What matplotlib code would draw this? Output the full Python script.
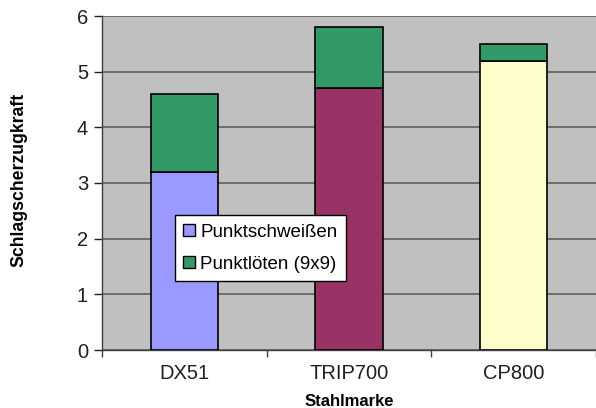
import matplotlib
matplotlib.use("Agg")
import matplotlib.pyplot as plt
from matplotlib.patches import Patch
import numpy as np

plt.rcParams['font.family'] = ['Liberation Sans', 'DejaVu Sans']

categories = ["DX51", "TRIP700", "CP800"]
schweissen = [3.2, 4.7, 5.2]
loeten_total = [4.6, 5.8, 5.5]
loeten = [t - b for t, b in zip(loeten_total, schweissen)]
base_colors = ["#9999FF", "#993366", "#FFFFCC"]
top_color = "#339966"

fig = plt.figure(figsize=(5.96, 4.08), dpi=100)
ax = fig.add_axes([102 / 596, 1 - 350 / 408, 494 / 596, 334 / 408])
ax.set_facecolor("#C0C0C0")

x = np.arange(len(categories))
ax.bar(x, schweissen, width=0.41, color=base_colors, edgecolor="black", linewidth=1.2, zorder=3)
ax.bar(x, loeten, bottom=schweissen, width=0.41, color=top_color, edgecolor="black", linewidth=1.2, zorder=3)

ax.set_xlim(-0.5, 2.5)
ax.set_ylim(0, 6)
ax.set_yticks(range(7))
ax.yaxis.grid(True, color="#606060", linewidth=1.2, zorder=1)
ax.set_axisbelow(True)

ax.set_xticks(x)
ax.set_xticklabels(categories, fontsize=14.5, color="#202020")
ax.tick_params(axis="x", length=0, pad=10)
ax.set_xticks([-0.5, 0.5, 1.5, 2.5], minor=True)
ax.tick_params(axis="x", which="minor", length=5, width=1.0, color="#404040")
ax.tick_params(axis="y", labelsize=14.5, length=6, width=1.0, color="#202020", labelcolor="#202020", pad=4)

for s in ["top", "right"]:
    ax.spines[s].set_visible(False)
ax.spines["left"].set_color("#404040")
ax.spines["bottom"].set_color("#404040")
ax.spines["left"].set_linewidth(1.0)
ax.spines["bottom"].set_linewidth(1.0)

ax.set_xlabel("Stahlmarke", fontsize=12, fontweight="bold", labelpad=8)
fig.text(19 / 596, 1 - 180 / 408, "Schlagscherzugkraft", rotation=90, fontsize=12.7,
         fontweight="bold", ha="center", va="center")

handles = [Patch(facecolor=base_colors[0], edgecolor="black", label="Punktschweißen"),
           Patch(facecolor=top_color, edgecolor="black", label="Punktlöten (9x9)")]
leg = ax.legend(handles=handles, loc="lower left", bbox_to_anchor=((175 - 102) / 494, (350 - 281) / 334),
                fontsize=13.5, frameon=True, fancybox=False, handlelength=0.6, handleheight=0.6,
                handletextpad=0.3, borderpad=0.45, labelspacing=0.8, borderaxespad=0)
leg.get_frame().set_edgecolor("black")
leg.get_frame().set_linewidth(1.0)
leg.get_frame().set_facecolor("white")
leg.get_frame().set_alpha(1)

fig.savefig("out.png", dpi=100)
